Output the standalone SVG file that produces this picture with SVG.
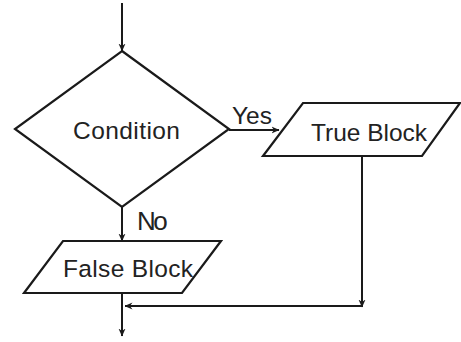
<svg xmlns="http://www.w3.org/2000/svg" width="461" height="342" viewBox="0 0 461 342">
<defs>
<style>
.shape{fill:#fff;stroke:#1a1a1a;stroke-width:2.2;stroke-linejoin:miter}
.conn{fill:none;stroke:#1a1a1a;stroke-width:2}
.lbl{font-family:"Liberation Sans",Arial,sans-serif;font-size:24.5px;fill:#222}
</style>
<marker id="ah" viewBox="0 0 8 8" refX="7.5" refY="4" markerWidth="8" markerHeight="8" markerUnits="userSpaceOnUse" orient="auto">
<path d="M0,0.5 L8,4 L0,7.5 L2.5,4 z" fill="#1a1a1a"/>
</marker>
</defs>
<rect width="461" height="342" fill="#fff"/>
<g id="connectors">
<line class="conn" x1="122" y1="3" x2="122" y2="51" marker-end="url(#ah)"/>
<line class="conn" x1="229" y1="130" x2="279" y2="130" marker-end="url(#ah)"/>
<line class="conn" x1="122" y1="207" x2="122" y2="241" marker-end="url(#ah)"/>
<line class="conn" x1="362" y1="156" x2="362" y2="307" marker-end="url(#ah)"/>
<line class="conn" x1="362" y1="306" x2="125" y2="306" marker-end="url(#ah)"/>
<line class="conn" x1="122" y1="293" x2="122" y2="336" marker-end="url(#ah)"/>
<text class="lbl" x="232" y="124" textLength="40">Yes</text>
<text class="lbl" x="137" y="230" style="font-size:26px" letter-spacing="-2.5">No</text>
</g>
<g id="condition">
<polygon class="shape" points="122,51 229,129 122,207 15,129"/>
<text class="lbl" x="73" y="139" textLength="107">Condition</text>
</g>
<g id="true-block">
<polygon class="shape" points="303,103 460,103 422,156 263,156"/>
<text class="lbl" x="311" y="141" textLength="116">True Block</text>
</g>
<g id="false-block">
<polygon class="shape" points="63,241 221,241 182,293 24,293"/>
<text class="lbl" x="63" y="277" textLength="130">False Block</text>
</g>
</svg>
